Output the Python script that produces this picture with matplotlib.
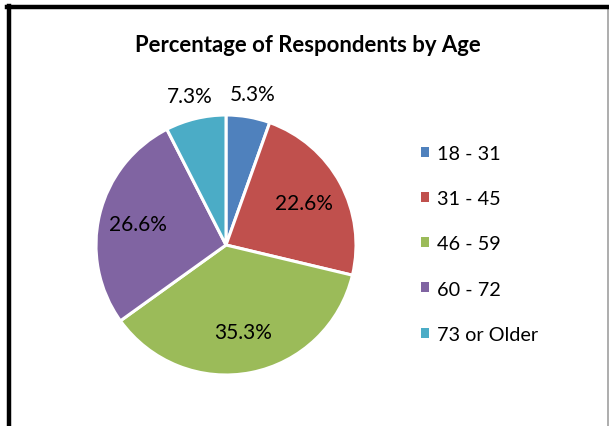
import numpy as np
import matplotlib
matplotlib.use("Agg")
import matplotlib.pyplot as plt
from matplotlib.lines import Line2D
from matplotlib.patches import Patch

categories = ["18 - 31", "31 - 45", "46 - 59", "60 - 72", "73 or Older"]
values = [5.3, 22.6, 35.3, 26.6, 7.3]
colors = ["#4F81BD", "#C0504D", "#9BBB59", "#8064A2", "#4BACC6"]
title = "Percentage of Respondents by Age"

plt.rcParams['font.family'] = ['Lato', 'DejaVu Sans']

W, H = 609, 427
fig = plt.figure(figsize=(W / 100, H / 100), dpi=100)

# pie axes: center ~ (226, 246) px, radius ~130 px
cx, cy, r = 226, 246, 130
ax = fig.add_axes([(cx - r) / W, (H - cy - r) / H, 2 * r / W, 2 * r / H])
wedges, _ = ax.pie(values, colors=colors, startangle=90, counterclock=False,
                   radius=1.0, wedgeprops=dict(edgecolor="white", linewidth=2.2))
ax.set_xlim(-1, 1)
ax.set_ylim(-1, 1)
ax.set_aspect("equal")
ax.axis("off")

label_dist = [1.18, 0.68, 0.68, 0.70, 1.18]
for w, v, d in zip(wedges, values, label_dist):
    ang = np.deg2rad((w.theta1 + w.theta2) / 2)
    ax.text(d * np.cos(ang), d * np.sin(ang), f"{v:.1f}%", ha="center", va="center",
            fontsize=15, color="black", clip_on=False)

fig.text(308 / W, 1 - 46 / H, title, ha="center", va="center",
         fontsize=15.9, fontweight="bold")

handles = [Patch(facecolor=c, edgecolor="none") for c in colors]
leg = fig.legend(handles, categories, loc="upper left",
                 bbox_to_anchor=(413 / W, 1 - 138 / H), frameon=False,
                 fontsize=14.3, handlelength=0.4, handleheight=0.4,
                 handletextpad=0.4, labelspacing=1.42, borderaxespad=0)

# chart border
tf = fig.transFigure
def px(x, y):
    return x / W, 1 - y / H
x0, y0 = px(9, 8)
x1, y1 = px(608, 427)
fig.add_artist(Line2D([x1, x1], [px(0, 9)[1], 0], color="#A0A0A0", lw=1.2, transform=tf))
fig.add_artist(Line2D([px(7, 0)[0], x1], [y0, y0], color="black", lw=3.2, transform=tf))
fig.add_artist(Line2D([x0, x0], [px(0, 6.5)[1], 0], color="black", lw=3.2, transform=tf))

fig.savefig("out.png", dpi=100, facecolor="white")
